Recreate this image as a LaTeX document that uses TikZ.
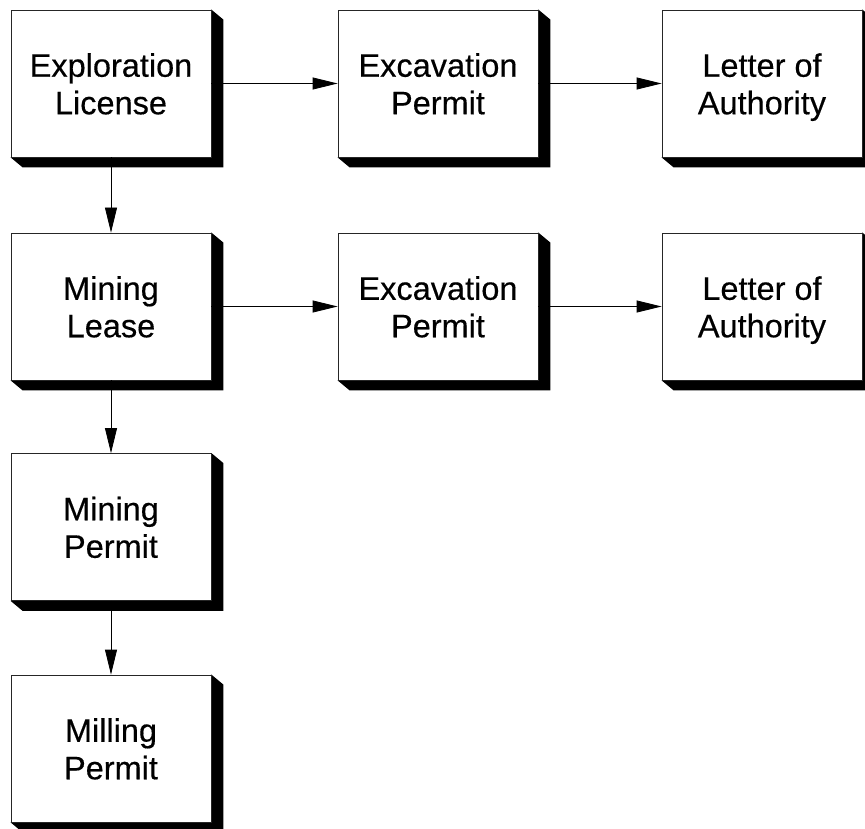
\documentclass[tikz,border=0pt]{standalone}
\usepackage{fontspec}
\setmainfont{Liberation Sans}[FakeBold=0.4]
\usetikzlibrary{arrows.meta,backgrounds,calc}
\newcommand\twoline[2]{\rule{0pt}{31pt}#1\\#2\rule[-7pt]{0pt}{7pt}}
\begin{document}
\begin{tikzpicture}[x=1pt,y=-1pt,
  box/.style={draw=black!85, line width=0.8pt, fill=white, minimum width=200pt,
    minimum height=147pt, inner sep=0pt, align=center,
    font=\fontsize{32.5}{37.5}\selectfont},
  arr/.style={draw=black, line width=0.8pt, -{Triangle[length=25pt,width=12pt]}},
  boxshadow/.style={fill=black}]
\useasboundingbox (0,0) rectangle (865,829);
\clip (0,0) rectangle (865,829);

\node[box] (expl)  at (111,83.5)  {\twoline{Exploration}{License}};
\node[box] (exc1)  at (438,83.5)  {\twoline{Excavation}{Permit}};
\node[box] (let1)  at (762,83.5)  {\twoline{Letter of}{Authority}};
\node[box] (lease) at (111,306.5) {\twoline{Mining}{Lease}};
\node[box] (exc2)  at (438,306.5) {\twoline{Excavation}{Permit}};
\node[box] (let2)  at (762,306.5) {\twoline{Letter of}{Authority}};
\node[box] (mper)  at (111,527)   {\twoline{Mining}{Permit}};
\node[box] (mill)  at (111,748.5) {\twoline{Milling}{Permit}};

\begin{scope}[on background layer]
\fill[white] (0,0) rectangle (865,829);
\foreach \n in {expl,exc1,let1,lease,exc2,let2,mper,mill}{
  \fill[boxshadow] (\n.north east) -- ++(12,10) -- ($(\n.south east)+(12,10)$)
    -- ($(\n.south west)+(12,10)$) -- (\n.south west) -- cycle;
}
\end{scope}

\draw[arr] (expl) -- (exc1);
\draw[arr] (exc1) -- (let1);
\draw[arr] (lease) -- (exc2);
\draw[arr] (exc2) -- (let2);
\draw[arr] (expl) -- (lease);
\draw[arr] (lease) -- (mper);
\draw[arr] (mper) -- (mill);
\end{tikzpicture}
\end{document}
